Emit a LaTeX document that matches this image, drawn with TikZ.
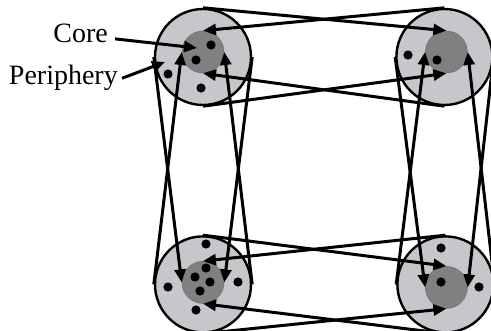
\documentclass[tikz,border=0pt]{standalone}
\usepackage{fontspec}
\setmainfont{Liberation Serif}
\usepackage{xcolor}
\usepackage{tikz}
\usetikzlibrary{positioning,arrows.meta}

\definecolor{peri}{RGB}{200,198,202}
\definecolor{kern}{RGB}{128,127,130}

\begin{document}
\begin{tikzpicture}[x=1pt, y=1pt,
    outer/.style={circle, draw, line width=2.4pt, fill=peri, minimum size=96pt, inner sep=0pt},
    core/.style={circle, draw=black!55, line width=0.6pt, fill=kern, minimum size=42pt, inner sep=0pt},
    link/.style={line width=3pt, -{Triangle[length=13pt,width=11pt]}},
    lbl/.style={font=\fontsize{28}{30}\selectfont, inner sep=0pt}]
      \useasboundingbox (0,0) rectangle (491,-331);
      % periphery circles
      \node[outer] (nw) at (203,-57) {};
      \node[outer] (ne) [right=143pt of nw] {};
      \node[outer] (sw) [below=129pt of nw] {};
      \node[outer] (se) [right=144pt of sw] {};
      % cores
      \node[core] (nwcore) at ([yshift=5pt]nw.center) {};
      \node[core] (necore) at ([shift={(2pt,5pt)}]ne.center) {};
      \node[core] (swcore) at ([yshift=2pt]sw.center) {};
      \node[core] (secore) at ([shift={(1pt,-3pt)}]se.center) {};
      % members
      \foreach \p in {(211,-45),(196,-60),(168,-74),(201,-88),
                      (408,-55),(437,-60),
                      (206,-244),(168,-287),(238,-282),(196,-310),
                      (206,-268),(195,-277),(210,-282),(200,-291),
                      (441,-248),(479,-287),(441,-282)}
        \fill \p circle (4.6pt);
      % links
      \path[link]
      (nw.north) edge (necore.north)
      (ne.north) edge (nwcore.north)
      (nw.south) edge (necore.south)
      (ne.south) edge (nwcore.south)
      (sw.north) edge (secore.north)
      (se.north) edge (swcore.north)
      (sw.south) edge (secore.south)
      (se.south) edge (swcore.south)
      (nw.west) edge (swcore.west)
      (sw.west) edge (nwcore.west)
      (nw.east) edge (swcore.east)
      (sw.east) edge (nwcore.east)
      (ne.west) edge (secore.west)
      (se.west) edge (necore.west)
      (ne.east) edge (secore.east)
      (se.east) edge (necore.east);
      % labels
      \node[lbl, anchor=base east] (corelbl) at (108,-43) {Core};
      \node[lbl, anchor=base east] (perilbl) at (118,-85) {Periphery};
      \coordinate (coretip) at (197,-48);
      \coordinate (peritip) at (165,-62);
      \draw[link] ([shift={(7pt,-5pt)}]corelbl.east) -- (coretip);
      \draw[link] ([xshift=4pt]perilbl.east) -- (peritip);
    \end{tikzpicture}
\end{document}
